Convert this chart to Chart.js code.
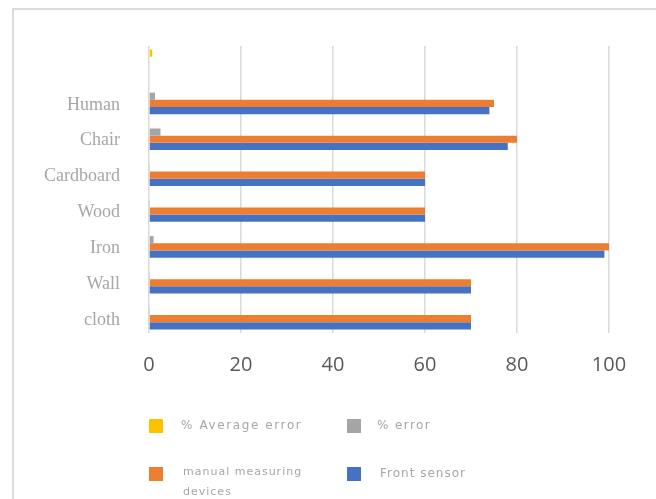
<!DOCTYPE html>
<html>
<head>
<meta charset="utf-8">
<script src="https://cdn.jsdelivr.net/npm/chart.js@4.4.0/dist/chart.umd.min.js"></script>
<style>
  html, body { margin: 0; padding: 0; background: #fff; }
  #wrap { position: relative; width: 656px; height: 499px; overflow: hidden; }
  #frame { position: absolute; left: 12px; top: 8px; right: -10px; bottom: -10px;
           border-left: 2px solid #dcdcdc; border-top: 2px solid #dcdcdc; }
  canvas { position: absolute; left: 0; top: 0; }
  .lg { position: absolute; font: 12px "DejaVu Sans", sans-serif; color: #a6a6a6; letter-spacing: 1px; line-height: 20px; }
  .sw { position: absolute; width: 14px; height: 14px; }
</style>
</head>
<body>
<div id="wrap">
  <div id="frame"></div>
  <canvas id="chart" width="656" height="499"></canvas>
  <div class="sw" style="left:149px;top:419px;background:#FFC000"></div>
  <div class="lg" style="left:181px;top:415px;letter-spacing:1.6px">% Average error</div>
  <div class="sw" style="left:347px;top:419px;background:#A5A5A5"></div>
  <div class="lg" style="left:377px;top:415px;letter-spacing:1.4px">% error</div>
  <div class="sw" style="left:149px;top:467px;background:#ED7D31"></div>
  <div class="lg" style="left:183px;top:462px;font-size:11px;line-height:20px">manual measuring<br>devices</div>
  <div class="sw" style="left:347px;top:467px;background:#4472C4"></div>
  <div class="lg" style="left:380px;top:463px">Front sensor</div>
</div>
<script>
// catégories de haut en bas
const categories = ['', 'Human', 'Chair', 'Cardboard', 'Wood', 'Iron', 'Wall', 'cloth'];
const averageError = [0.7, null, null, null, null, null, null, null];
const percentError = [null, 1.3, 2.5, 0, 0, 1, 0, 0];
const manualDevices = [null, 75, 80, 60, 60, 100, 70, 70];
const frontSensor = [null, 74, 78, 60, 60, 99, 70, 70];
const xTicks = [0, 20, 40, 60, 80, 100];

new Chart(document.getElementById('chart'), {
    type: 'bar',
    data: {
        labels: categories,
        datasets: [
            { label: '% Average error', data: averageError, backgroundColor: '#FFC000' },
            { label: '% error', data: percentError, backgroundColor: '#A5A5A5' },
            { label: 'manual measuring devices', data: manualDevices, backgroundColor: '#ED7D31' },
            { label: 'Front sensor', data: frontSensor, backgroundColor: '#4472C4' }
        ]
    },
    options: {
        indexAxis: 'y',
        responsive: false,
        animation: false,
        layout: { padding: { top: 46, right: 47, left: 0, bottom: 0 } },
        datasets: { bar: { categoryPercentage: 0.8, barPercentage: 1, minBarLength: 1 } },
        plugins: { legend: { display: false }, tooltip: { enabled: false } },
        scales: {
            x: {
                min: 0, max: 100,
                afterBuildTicks: s => { s.ticks = xTicks.map(v => ({ value: v })); },
                afterFit: s => { s.height = 166; },
                grid: { color: '#d9d9d9', lineWidth: 1.5, drawTicks: false },
                border: { display: false },
                ticks: { color: '#595959', padding: 20, font: { family: '"Open Sans", sans-serif', size: 20 } }
            },
            y: {
                afterFit: s => { s.width = 149; },
                grid: { display: false, drawTicks: false },
                border: { display: false },
                ticks: { color: '#a6a6a6', padding: 29, labelOffset: 5, font: { family: '"Liberation Serif", serif', size: 18 } }
            }
        }
    }
});
</script>
</body>
</html>
